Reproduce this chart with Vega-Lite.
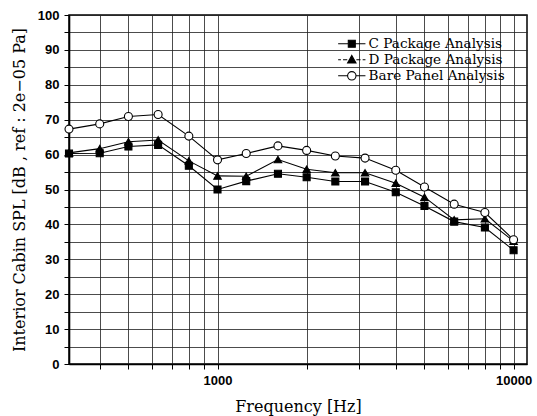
{
  "$schema": "https://vega.github.io/schema/vega-lite/v6.json",
  "width": 458,
  "height": 349,
  "autosize": {"type": "none"},
  "padding": {"left": 69, "top": 15, "right": 10, "bottom": 52},
  "background": "white",
  "data": {
    "values": [
      {"f": 315, "series": "C Package Analysis", "spl": 60.3},
      {"f": 400, "series": "C Package Analysis", "spl": 60.4},
      {"f": 500, "series": "C Package Analysis", "spl": 62.3},
      {"f": 630, "series": "C Package Analysis", "spl": 62.8},
      {"f": 800, "series": "C Package Analysis", "spl": 56.8},
      {"f": 1000, "series": "C Package Analysis", "spl": 50.0},
      {"f": 1250, "series": "C Package Analysis", "spl": 52.4},
      {"f": 1600, "series": "C Package Analysis", "spl": 54.5},
      {"f": 2000, "series": "C Package Analysis", "spl": 53.5},
      {"f": 2500, "series": "C Package Analysis", "spl": 52.3},
      {"f": 3150, "series": "C Package Analysis", "spl": 52.3},
      {"f": 4000, "series": "C Package Analysis", "spl": 49.2},
      {"f": 5000, "series": "C Package Analysis", "spl": 45.3},
      {"f": 6300, "series": "C Package Analysis", "spl": 40.8},
      {"f": 8000, "series": "C Package Analysis", "spl": 39.1},
      {"f": 10000, "series": "C Package Analysis", "spl": 32.6},
      {"f": 315, "series": "D Package Analysis", "spl": 60.5},
      {"f": 400, "series": "D Package Analysis", "spl": 61.7},
      {"f": 500, "series": "D Package Analysis", "spl": 63.7},
      {"f": 630, "series": "D Package Analysis", "spl": 64.2},
      {"f": 800, "series": "D Package Analysis", "spl": 58.2},
      {"f": 1000, "series": "D Package Analysis", "spl": 53.9},
      {"f": 1250, "series": "D Package Analysis", "spl": 53.8},
      {"f": 1600, "series": "D Package Analysis", "spl": 58.6},
      {"f": 2000, "series": "D Package Analysis", "spl": 55.8},
      {"f": 2500, "series": "D Package Analysis", "spl": 54.8},
      {"f": 3150, "series": "D Package Analysis", "spl": 54.8},
      {"f": 4000, "series": "D Package Analysis", "spl": 51.8},
      {"f": 5000, "series": "D Package Analysis", "spl": 47.8},
      {"f": 6300, "series": "D Package Analysis", "spl": 41.3},
      {"f": 8000, "series": "D Package Analysis", "spl": 41.6},
      {"f": 10000, "series": "D Package Analysis", "spl": 35.2},
      {"f": 315, "series": "Bare Panel Analysis", "spl": 67.3},
      {"f": 400, "series": "Bare Panel Analysis", "spl": 68.8},
      {"f": 500, "series": "Bare Panel Analysis", "spl": 70.9},
      {"f": 630, "series": "Bare Panel Analysis", "spl": 71.5},
      {"f": 800, "series": "Bare Panel Analysis", "spl": 65.3},
      {"f": 1000, "series": "Bare Panel Analysis", "spl": 58.5},
      {"f": 1250, "series": "Bare Panel Analysis", "spl": 60.3},
      {"f": 1600, "series": "Bare Panel Analysis", "spl": 62.5},
      {"f": 2000, "series": "Bare Panel Analysis", "spl": 61.2},
      {"f": 2500, "series": "Bare Panel Analysis", "spl": 59.6},
      {"f": 3150, "series": "Bare Panel Analysis", "spl": 59.0},
      {"f": 4000, "series": "Bare Panel Analysis", "spl": 55.5},
      {"f": 5000, "series": "Bare Panel Analysis", "spl": 50.7},
      {"f": 6300, "series": "Bare Panel Analysis", "spl": 45.8},
      {"f": 8000, "series": "Bare Panel Analysis", "spl": 43.4},
      {"f": 10000, "series": "Bare Panel Analysis", "spl": 35.6}
    ]
  },
  "encoding": {
    "x": {
      "field": "f",
      "type": "quantitative",
      "scale": {"type": "log", "domain": [315, 11100], "nice": false},
      "axis": {
        "values": [400, 500, 600, 700, 800, 900, 1000, 2000, 3000, 4000, 5000, 6000, 7000, 8000, 9000, 10000],
        "labelExpr": "datum.value == 1000 || datum.value == 10000 ? format(datum.value, 'd') : ''",
        "title": "Frequency [Hz]",
        "titlePadding": 11
      }
    },
    "y": {
      "field": "spl",
      "type": "quantitative",
      "scale": {"domain": [0, 100], "nice": false},
      "axis": {
        "values": [0, 5, 10, 15, 20, 25, 30, 35, 40, 45, 50, 55, 60, 65, 70, 75, 80, 85, 90, 95, 100],
        "labelExpr": "datum.value % 10 == 0 ? datum.label : ''",
        "title": "Interior Cabin SPL [dB , ref : 2e−05 Pa]",
        "titlePadding": 10
      }
    }
  },
  "layer": [
    {
      "mark": {"type": "line", "color": "black", "strokeWidth": 1.1},
      "encoding": {"detail": {"field": "series"}}
    },
    {
      "mark": {"type": "point", "filled": false, "stroke": "black", "strokeWidth": 1.1, "opacity": 1},
      "encoding": {
        "shape": {
          "field": "series",
          "type": "nominal",
          "scale": {"domain": ["C Package Analysis", "D Package Analysis", "Bare Panel Analysis"], "range": ["square", "triangle-up", "circle"]},
          "legend": null
        },
        "fill": {
          "field": "series",
          "type": "nominal",
          "scale": {"domain": ["C Package Analysis", "D Package Analysis", "Bare Panel Analysis"], "range": ["black", "black", "white"]},
          "legend": null
        },
        "size": {
          "field": "series",
          "type": "nominal",
          "scale": {"domain": ["C Package Analysis", "D Package Analysis", "Bare Panel Analysis"], "range": [49, 64, 81]},
          "legend": null
        }
      }
    },
    {
      "transform": [{"filter": "datum.f < 0"}],
      "mark": {"type": "point", "filled": true, "fill": "black", "stroke": "black", "strokeWidth": 1.1, "opacity": 1},
      "encoding": {
        "shape": {
          "field": "series",
          "type": "nominal",
          "scale": {
            "domain": ["C Package Analysis", "D Package Analysis", "Bare Panel Analysis"],
            "range": [
              "M-3.9,0H-1M1,0H3.9M-1,-1H1V1H-1Z",
              "M-3.9,0H-3.1M-2.5,0H-1.3M1.3,0H2.5M3.1,0H3.9M0,-1.25L1.2,0.9H-1.2Z",
              "M-3.9,0H-1.2M1.2,0H3.9M-1.2,0A1.2,1.2 0 1,1 1.2,0A1.2,1.2 0 1,1 -1.2,0ZM-1.2,0A1.2,1.2 0 1,0 1.2,0A1.2,1.2 0 1,0 -1.2,0Z"
            ]
          },
          "legend": {
            "title": null,
            "orient": "top-right",
            "offset": 22,
            "padding": 0,
            "symbolSize": 49,
            "symbolOffset": 10,
            "labelOffset": 10,
            "rowPadding": 1,
            "symbolStrokeWidth": 1.1,
            "symbolOpacity": 1,
            "labelFont": "DejaVu Serif",
            "labelFontSize": 13.6,
            "labelColor": "black",
            "labelLimit": 300
          }
        }
      }
    }
  ],
  "resolve": {"scale": {"shape": "independent"}, "legend": {"shape": "independent"}},
  "config": {
    "view": {"stroke": "black", "strokeWidth": 1.5},
    "axis": {
      "grid": true,
      "gridColor": "#222222",
      "gridOpacity": 0.9,
      "gridWidth": 0.9,
      "domainColor": "black",
      "domainWidth": 1.6,
      "tickColor": "black",
      "tickSize": 5,
      "tickWidth": 1,
      "labelFont": "Liberation Sans",
      "labelFontWeight": "bold",
      "labelFontSize": 13,
      "labelColor": "black",
      "labelFlush": false,
      "labelOverlap": false,
      "labelPadding": 5,
      "titleFont": "DejaVu Serif",
      "titleFontWeight": "normal",
      "titleFontSize": 16,
      "titleColor": "black"
    }
  }
}
